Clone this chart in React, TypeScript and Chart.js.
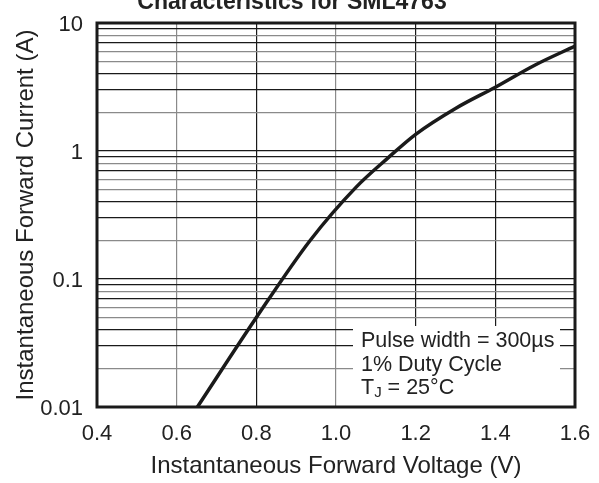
import React, { useEffect, useRef } from 'react';
import { Chart, registerables } from 'chart.js';

Chart.register(...registerables);

// ---- data ----
const voltage = [0.652, 0.8, 0.935, 1.05, 1.13, 1.2, 1.3, 1.4, 1.5, 1.6];
const current = [0.01, 0.05, 0.2, 0.52, 0.88, 1.35, 2.15, 3.15, 4.7, 6.6];
const xTickValues = [0.4, 0.6, 0.8, 1.0, 1.2, 1.4, 1.6];
const xDarkGrid = [0.8, 1.2, 1.4];
const yDecades = [0.01, 0.1, 1, 10];
const yDecadeLabels = ['0.01', '0.1', '1', '10'];
const yDarkMantissas = [1, 3, 4, 7, 9];
const chartTitle = 'Characteristics for SML4763';
const xTitle = 'Instantaneous Forward Voltage (V)';
const yTitle = 'Instantaneous Forward Current (A)';
const noteLine1 = 'Pulse width = 300\u00b5s';
const noteLine2 = '1% Duty Cycle';
const noteLine3a = 'T';
const noteLine3sub = 'J';
const noteLine3b = ' = 25\u00b0C';

const FONT = '"Liberation Sans", Arial, Helvetica, sans-serif';
const DARK = '#1a1a1a';
const GRAY = '#8a8a8a';

const yTickValues: number[] = [];
yDecades.forEach((d, i) => {
  if (i === yDecades.length - 1) {
    yTickValues.push(d);
    return;
  }
  for (let m = 1; m <= 9; m++) yTickValues.push(parseFloat((m * d).toPrecision(3)));
});

function mantissa(v: number) {
  const e = Math.floor(Math.log10(v) + 1e-9);
  return Math.round(v / Math.pow(10, e));
}

const overlayPlugin = {
  id: 'overlay',
  beforeDatasetsDraw(chart: any) {
    const { ctx, chartArea: a } = chart;
    ctx.save();
    // note box
    ctx.fillStyle = '#ffffff';
    ctx.fillRect(a.right - 222, a.bottom - 81, 207, 81);
    ctx.fillStyle = '#222';
    ctx.font = `21.5px ${FONT}`;
    ctx.textAlign = 'left';
    ctx.textBaseline = 'alphabetic';
    const tx = a.right - 214;
    ctx.fillText(noteLine1, tx, a.bottom - 60);
    ctx.fillText(noteLine2, tx, a.bottom - 36.5);
    const y3 = a.bottom - 13;
    ctx.fillText(noteLine3a, tx, y3);
    let w = ctx.measureText(noteLine3a).width;
    ctx.font = `15px ${FONT}`;
    ctx.fillText(noteLine3sub, tx + w, y3 + 3);
    w += ctx.measureText(noteLine3sub).width;
    ctx.font = `21.5px ${FONT}`;
    ctx.fillText(noteLine3b, tx + w, y3);
    ctx.restore();
  },
  afterDatasetsDraw(chart: any) {
    const { ctx, chartArea: a } = chart;
    ctx.save();
    ctx.strokeStyle = DARK;
    ctx.lineWidth = 3;
    ctx.strokeRect(a.left, a.top, a.right - a.left, a.bottom - a.top);
    ctx.restore();
  },
  afterDraw(chart: any) {
    const { ctx } = chart;
    ctx.save();
    ctx.fillStyle = '#222';
    ctx.font = `bold 23px ${FONT}`;
    ctx.textAlign = 'center';
    ctx.textBaseline = 'alphabetic';
    ctx.fillText(chartTitle, 292, 9);
    ctx.restore();
  },
};

export default function App() {
  const ref = useRef<HTMLCanvasElement | null>(null);

  useEffect(() => {
    if (!ref.current) return;
    const chart = new Chart(ref.current, {
      type: 'line',
      data: {
        datasets: [
          {
            data: voltage.map((v, i) => ({ x: v, y: current[i] })),
            borderColor: DARK,
            borderWidth: 3.5,
            pointRadius: 0,
            cubicInterpolationMode: 'monotone',
            fill: false,
          },
        ],
      },
      options: {
        animation: false,
        responsive: true,
        maintainAspectRatio: false,
        layout: { padding: { top: 23, right: 24, left: 0, bottom: 0 } },
        plugins: {
          legend: { display: false },
          tooltip: { enabled: false },
          title: { display: false },
        },
        scales: {
          x: {
            type: 'linear',
            min: 0.4,
            max: 1.6,
            afterBuildTicks: (scale: any) => {
              scale.ticks = xTickValues.map((v) => ({ value: v }));
            },
            afterFit: (scale: any) => {
              scale.height = 76;
              scale.paddingLeft = 0;
              scale.paddingRight = 0;
            },
            ticks: {
              callback: (v: any) => Number(v).toFixed(1),
              font: { family: FONT, size: 22 },
              color: '#222',
              padding: 14,
              maxRotation: 0,
              autoSkip: false,
            },
            grid: {
              color: (c: any) =>
                xDarkGrid.some((d) => Math.abs(d - c.tick?.value) < 1e-6) ? DARK : GRAY,
              lineWidth: 1.2,
              drawTicks: false,
            },
            border: { display: false },
            title: {
              display: true,
              text: xTitle,
              font: { family: FONT, size: 24 },
              color: '#222',
              padding: { top: 0, bottom: 2 },
            },
          },
          y: {
            type: 'logarithmic',
            min: 0.01,
            max: 10,
            afterBuildTicks: (scale: any) => {
              scale.ticks = yTickValues.map((v) => ({ value: v }));
            },
            afterFit: (scale: any) => {
              scale.width = 97;
              scale.paddingTop = 0;
              scale.paddingBottom = 0;
            },
            ticks: {
              callback: (v: any) => {
                const i = yDecades.findIndex((d) => Math.abs(d - Number(v)) / d < 1e-6);
                return i >= 0 ? yDecadeLabels[i] : '';
              },
              font: { family: FONT, size: 22 },
              color: '#222',
              padding: 14,
              labelOffset: 2,
              autoSkip: false,
            },
            grid: {
              color: (c: any) =>
                yDarkMantissas.includes(mantissa(c.tick?.value ?? 1)) ? DARK : GRAY,
              lineWidth: 1.2,
              drawTicks: false,
            },
            border: { display: false },
            title: {
              display: true,
              text: yTitle,
              font: { family: FONT, size: 24 },
              color: '#222',
              padding: { top: 12, bottom: 0 },
            },
          },
        },
      },
      plugins: [overlayPlugin],
    } as any);
    return () => chart.destroy();
  }, []);

  return (
    <div style={{ position: 'fixed', left: 0, top: 0, width: 599, height: 483, background: '#fff' }}>
      <canvas ref={ref} />
    </div>
  );
}
